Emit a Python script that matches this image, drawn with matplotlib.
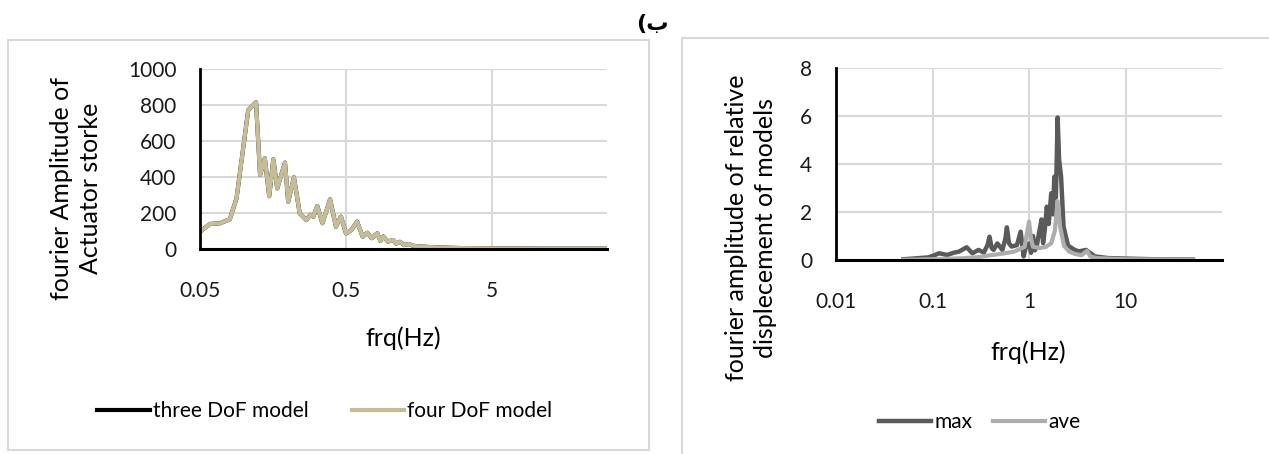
import matplotlib
matplotlib.use("Agg")
import matplotlib.pyplot as plt
from matplotlib.patches import Rectangle

plt.rcParams['font.family'] = ['Lato', 'DejaVu Sans']

# left chart: actuator stroke spectrum
left_freq = [0.05, 0.0585, 0.0685, 0.080, 0.089, 0.107, 0.121, 0.129, 0.139, 0.149,
             0.159, 0.169, 0.191, 0.201, 0.220, 0.241, 0.268, 0.285, 0.299, 0.318,
             0.345, 0.389, 0.427, 0.462, 0.50, 0.545, 0.596, 0.65, 0.70, 0.75,
             0.82, 0.86, 0.90, 0.97, 1.05, 1.10, 1.17, 1.25, 1.35, 1.44,
             1.6, 1.87, 2.3, 3.1, 4.5, 7, 12, 20, 31]
three_dof = [96, 139, 143, 165, 282, 772, 815, 411, 504, 294,
             498, 337, 480, 263, 398, 198, 161, 190, 180, 239,
             143, 276, 124, 180, 87, 106, 152, 69, 90, 60,
             87, 45, 70, 41, 50, 30, 40, 22, 28, 18,
             14, 11, 8, 5, 4, 3, 2, 2, 2]
four_dof = list(three_dof)
left_yticks = [0, 200, 400, 600, 800, 1000]
left_xticks = [0.05, 0.5, 5]
left_xlabels = ["0.05", "0.5", "5"]

# right chart: relative displacement spectrum
max_freq = [0.05, 0.091, 0.105, 0.117, 0.142, 0.165, 0.188, 0.226, 0.259, 0.30,
            0.34, 0.37, 0.39, 0.41, 0.43, 0.47, 0.53, 0.57, 0.59, 0.62,
            0.66, 0.75, 0.82, 0.88, 0.93, 1.0, 1.05, 1.1, 1.15, 1.2,
            1.28, 1.35, 1.4, 1.46, 1.53, 1.6, 1.7, 1.77, 1.83, 1.9,
            1.98, 2.05, 2.15, 2.28, 2.54, 2.97, 3.3, 3.9, 4.8, 6.6,
            9.8, 20, 50]
max_amp = [0.03, 0.11, 0.2, 0.28, 0.21, 0.3, 0.35, 0.53, 0.28, 0.42,
           0.31, 0.6, 0.97, 0.5, 0.42, 0.69, 0.42, 0.9, 1.36, 0.7,
           0.56, 0.62, 1.18, 0.15, 0.56, 0.69, 0.3, 1.0, 0.4, 0.55,
           1.2, 1.69, 0.7, 1.28, 2.22, 1.5, 2.78, 1.9, 3.47, 2.6,
           5.94, 4.2, 3.47, 1.39, 0.6, 0.42, 0.36, 0.42, 0.15, 0.08,
           0.06, 0.03, 0.02]
ave_freq = [0.05, 0.1, 0.2, 0.3, 0.4, 0.5, 0.6, 0.7, 0.8, 0.9,
            0.97, 1.0, 1.05, 1.1, 1.3, 1.5, 1.7, 1.85, 1.98, 2.1,
            2.3, 2.6, 3.0, 3.5, 4.0, 4.3, 5.0, 10, 50]
ave_amp = [0.01, 0.03, 0.07, 0.12, 0.2, 0.25, 0.3, 0.35, 0.45, 0.55,
           1.3, 1.6, 0.9, 0.55, 0.5, 0.55, 0.7, 1.2, 2.45, 1.4,
           0.6, 0.35, 0.25, 0.2, 0.38, 0.15, 0.08, 0.03, 0.01]
right_yticks = [0, 2, 4, 6, 8]
right_xticks = [0.01, 0.1, 1, 10]
right_xlabels = ["0.01", "0.1", "1", "10"]

W, H = 1269, 454
fig = plt.figure(figsize=(W / 100, H / 100), dpi=100)

def fx(px):
    return px / W

def fy(py):
    return 1 - py / H

# panel frames
fig.patches.append(Rectangle((fx(8), fy(450)), fx(641), 410 / H, transform=fig.transFigure,
                             fill=False, edgecolor="#D9D9D9", lw=1.5))
fig.patches.append(Rectangle((fx(682), fy(460)), fx(600), 422 / H, transform=fig.transFigure,
                             fill=False, edgecolor="#D9D9D9", lw=1.5))

fig.text(fx(652), fy(24), "(ب", family=['DejaVu Sans'], fontweight='bold',
         fontsize=16, ha='center', va='center')

grid_c = "#D9D9D9"
tick_fs = 15
lab_fs = 18
leg_fs = 15


def style_axes(ax, xt, xl, yt):
    ax.set_xscale('log')
    ax.set_xticks(xt)
    ax.set_xticklabels(xl)
    ax.minorticks_off()
    ax.set_yticks(yt)
    ax.set_ylim(yt[0], yt[-1])
    ax.grid(True, color=grid_c, lw=1.5)
    ax.set_axisbelow(True)
    for s in ['top', 'right']:
        ax.spines[s].set_visible(False)
    ax.spines['left'].set_linewidth(2)
    ax.spines['bottom'].set_linewidth(2.2)
    ax.tick_params(axis='both', length=0, labelsize=tick_fs, colors='#1a1a1a')
    ax.tick_params(axis='x', pad=23)
    ax.tick_params(axis='y', pad=17)


ax1 = fig.add_axes([fx(200), fy(249), fx(607 - 200), (249 - 69) / H])
ax1.plot(left_freq, three_dof, color='black', lw=3, label='three DoF model')
ax1.plot(left_freq, four_dof, color='#C4BD97', lw=3, label='four DoF model')
style_axes(ax1, left_xticks, left_xlabels, left_yticks)
ax1.set_xlim(0.05, 30.7)
ax1.legend(loc='center', bbox_to_anchor=(fx(325), fy(411)), bbox_transform=fig.transFigure,
           ncol=2, frameon=False, fontsize=leg_fs, handlelength=2.5, handletextpad=0.15,
           columnspacing=2.1)

ax2 = fig.add_axes([fx(836), fy(260), fx(1222 - 836), (260 - 68) / H])
ax2.plot(max_freq, max_amp, color='#5A5A5A', lw=3.2, label='max')
ax2.plot(ave_freq, ave_amp, color='#ADADAD', lw=3, label='ave')
style_axes(ax2, right_xticks, right_xlabels, right_yticks)
ax2.set_xlim(0.01, 100)
ax2.legend(loc='center', bbox_to_anchor=(fx(980), fy(422)), bbox_transform=fig.transFigure,
           ncol=2, frameon=False, fontsize=leg_fs, handlelength=2.5, handletextpad=0.15,
           columnspacing=1.0)

fig.text(fx(76), fy(188), "fourier Amplitude of\nActuator storke", rotation=90,
         ha='center', va='center', multialignment='center', fontsize=lab_fs, linespacing=1.3)
fig.text(fx(403), fy(338), "frq(Hz)", ha='center', va='center', fontsize=lab_fs)
fig.text(fx(751), fy(228), "fourier amplitude of relative\ndisplecement of models", rotation=90,
         ha='center', va='center', multialignment='center', fontsize=lab_fs, linespacing=1.3)
fig.text(fx(1028), fy(352), "frq(Hz)", ha='center', va='center', fontsize=lab_fs)

fig.savefig("out.png", dpi=100)
